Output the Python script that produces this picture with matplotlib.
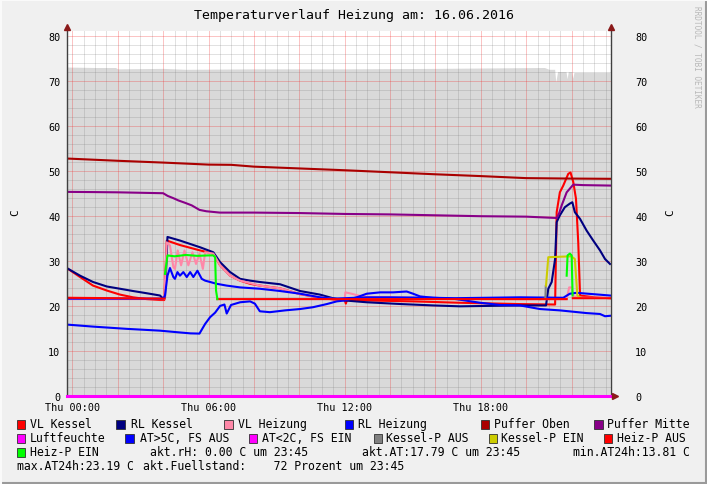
import numpy as np
import matplotlib
matplotlib.use("Agg")
import matplotlib.pyplot as plt
from matplotlib.patches import Rectangle

nan = np.nan
MONO = "DejaVu Sans Mono"

# zeit in stunden (Thu 00:00 = 0)
t_fuell = [-0.25, 1.0, 1.9, 2.0, 4.0, 5.0, 8.0, 12.0, 16.0, 20.8, 21.0, 21.25, 21.3, 21.38, 21.75, 21.8,
           21.85, 22.0, 22.05, 22.1, 23.69]
v_fuell = [73.0, 72.9, 72.9, 72.6, 72.7, 72.5, 72.6, 72.6, 72.7, 72.9, 72.5, 72.5, 69.7, 72.0, 72.0, 70.4,
           72.0, 72.0, 70.5, 71.8, 71.8]

t_oben = [-0.25, 2, 4, 6, 7, 8, 10, 12, 14, 16, 18, 20, 22, 23.69]
v_oben = [52.7, 52.2, 51.8, 51.35, 51.3, 50.9, 50.5, 50.1, 49.65, 49.2, 48.8, 48.35, 48.25, 48.2]

t_mitte = [-0.25, 1, 2, 3, 4.0, 4.2, 4.45, 4.67, 4.95, 5.26, 5.6, 5.9, 6.5, 8, 10, 12, 14, 16, 18, 20,
           21.34, 21.45, 21.56, 21.78, 22.07, 22.5, 23.69]
v_mitte = [45.3, 45.25, 45.2, 45.1, 45.0, 44.4, 43.9, 43.4, 42.9, 42.3, 41.3, 41.0, 40.7, 40.7, 40.6, 40.4,
           40.3, 40.1, 39.9, 39.8, 39.5, 40.6, 42.3, 45.2, 46.9, 46.8, 46.7]

t_vlk = [-0.25, 0.34, 0.91, 1.52, 2.10, 2.67, 3.28, 3.86, 4.05, 4.16, 4.74, 5.63, 6.21, 6.51, 6.95, 7.39,
         7.83, 8.26, 9.15, 10.03, 10.91, 11.55, 12.0, 12.05, 12.1, 13, 15, 17, 19.72, 21.27, 21.34, 21.48,
         21.63, 21.85, 21.95, 22.07, 22.19, 22.29, 22.37, 23, 23.69]
v_vlk = [28.4, 26.4, 24.5, 23.4, 22.5, 21.9, 21.5, 21.3, 21.3, 34.5, 33.5, 32.3, 31.6, 29.0, 26.7, 25.6,
         24.9, 24.5, 23.9, 22.6, 21.8, 21.4, 21.3, 20.5, 21.3, 21.2, 21.0, 20.7, 20.4, 20.3, 40.8, 45.2,
         46.7, 49.3, 49.6, 47.5, 43.8, 34.1, 22.3, 21.9, 21.7]

t_rlk = [-0.25, 0.34, 0.91, 1.52, 2.10, 2.67, 3.28, 3.86, 4.0, 4.08, 4.19, 4.74, 5.63, 6.21, 6.51, 6.95,
         7.39, 7.83, 8.26, 9.15, 10.03, 10.91, 11.48, 12.01, 12.97, 14.5, 15.89, 17.08, 19.72, 20.87, 20.97,
         21.12, 21.27, 21.34, 21.48, 21.70, 21.92, 22.03, 22.14, 22.37, 22.66, 22.95, 23.25, 23.47, 23.69]
v_rlk = [28.4, 26.7, 25.3, 24.3, 23.8, 23.3, 22.8, 22.3, 21.6, 21.8, 35.3, 34.5, 33.0, 31.9, 29.7, 27.5,
         26.0, 25.6, 25.3, 24.8, 23.3, 22.5, 21.7, 21.2, 20.8, 20.4, 20.1, 19.9, 20.1, 20.1, 23.8,
         25.3, 30.4, 38.6, 40.1, 41.9, 42.7, 43.0, 40.8, 39.3, 36.7, 34.5, 32.3, 30.4, 29.3]

t_vlh = [-0.25, 4.05, 4.16, 4.30, 4.45, 4.52, 4.64, 4.79, 4.94, 5.11, 5.29, 5.45, 5.60, 5.75, 5.85, 6.21,
         6.51, 6.95, 7.39, 8.26, 9.15, 10.03, 10.91, 11.55, 12.0, 12.03, 12.3, 12.6, 13.0, 15, 17, 19.72,
         21.78, 21.89, 22.0, 22.07, 22.3, 23.69]
v_vlh = [21.5, 21.5, 34.1, 33.4, 28.6, 28.2, 32.3, 29.0, 32.3, 29.0, 31.9, 29.3, 31.6, 28.2, 31.9, 31.6,
         29.0, 26.7, 25.6, 24.5, 23.9, 22.6, 21.9, 21.5, 21.5, 23.0, 22.7, 22.3, 22.0, 21.8, 21.6, 21.5,
         21.5, 24.1, 24.1, 22.2, 21.8, 21.8]

t_rlh = [-0.25, 4.0, 4.08, 4.19, 4.30, 4.45, 4.52, 4.63, 4.74, 4.89, 5.04, 5.19, 5.33, 5.51, 5.70, 5.85,
         6.07, 6.36, 6.80, 7.39, 8.26, 9.15, 10.03, 10.91, 11.48, 12.0, 12.97, 14, 15.89, 16.77, 19.72,
         21.63, 21.92, 22.22, 23.69]
v_rlh = [21.6, 21.6, 22.3, 26.7, 28.4, 26.4, 26.0, 27.5, 26.7, 27.5, 26.4, 27.5, 26.4, 27.8, 26.0, 25.6,
         25.3, 24.9, 24.5, 24.1, 23.8, 23.3, 22.7, 21.9, 21.6, 21.7, 21.9, 21.9, 21.8, 21.7, 21.9,
         21.8, 22.7, 22.9, 22.3]

t_at = [-0.25, 0.91, 2.4, 3.86, 4.74, 5.2, 5.6, 5.85, 6.07, 6.29, 6.51, 6.7, 6.8, 6.99, 7.39, 7.83, 8.04,
        8.26, 8.7, 9.37, 10.03, 10.6, 11.21, 11.65, 12.01, 12.53, 12.97, 13.56, 14.13, 14.73, 15.01, 15.32,
        15.89, 16.77, 17.96, 18.84, 19.72, 20.60, 21.48, 22.66, 23.25, 23.47, 23.69]
v_at = [15.85, 15.4, 14.9, 14.5, 14.1, 13.9, 13.85, 16.0, 17.5, 18.5, 20.0, 20.3, 18.3, 20.2, 20.8, 21.0,
        20.5, 18.8, 18.6, 19.0, 19.3, 19.7, 20.4, 21.0, 21.2, 21.9, 22.7, 23.0, 23.0, 23.19, 22.7, 22.1,
        21.8, 21.6, 20.7, 20.2, 20.1, 19.3, 19.0, 18.4, 18.2, 17.7, 17.8]

t_luft = [-0.25, 23.69]
v_luft = [0.0, 0.0]

t_kp_aus = [20.6, 20.84, 20.86]
v_kp_aus = [21.5, 21.6, 24.4]
t_kp_ein = [20.87, 20.97, 21.98, 22.14, 22.25, 22.37]
v_kp_ein = [24.5, 30.8, 31.0, 30.4, 22.3, 21.9]

t_hp_aus = [-0.25, 2.0, 4.05, 4.06, 6.38, 6.39, 12, 18, 21.78, 21.79, 22.04, 22.05, 23.69]
v_hp_aus = [21.8, 21.7, 21.6, nan, nan, 21.5, 21.5, 21.5, 21.5, nan, nan, 21.7, 21.7]
t_hp_ein = [4.08, 4.19, 4.5, 5.0, 5.5, 6.0, 6.21, 6.29, 6.33, 6.39, nan, 21.78, 21.82, 21.92, 22.0, 22.04]
v_hp_ein = [27.1, 31.2, 31.0, 31.3, 31.1, 31.2, 31.2, 30.8, 23.4, 21.5, nan, 26.7, 31.2, 31.6, 31.2, 22.3]

x_ticks = [0, 6, 12, 18]
x_labels = ["Thu 00:00", "Thu 06:00", "Thu 12:00", "Thu 18:00"]

legende = [
    ("VL Kessel", "#ff0000"), ("RL Kessel", "#000080"), ("VL Heizung", "#ff88a8"),
    ("RL Heizung", "#0000ff"), ("Puffer Oben", "#aa0000"), ("Puffer Mitte", "#880088"),
    ("Luftfeuchte", "#ff00ff"), ("AT>5C, FS AUS", "#0000ff"), ("AT<2C, FS EIN", "#ff00ff"),
    ("Kessel-P AUS", "#808080"), ("Kessel-P EIN", "#cccc00"), ("Heiz-P AUS", "#ff0000"),
    ("Heiz-P EIN", "#00ff00"),
]
# pixel positionen der legende (quadrat x, text x, zeile y)
leg_pos = [(16.7, 30.2, 425), (116.3, 130.7, 425), (224, 238, 425), (344.5, 358.4, 425),
           (480.6, 493.7, 425), (594, 607.3, 425),
           (16.7, 30.2, 439), (125.3, 139.8, 439), (248.9, 262.4, 439), (373.8, 385.5, 439),
           (488.7, 501.4, 439), (603.7, 616.8, 439),
           (16.7, 30.2, 453)]

W, H = 707, 485
fig = plt.figure(figsize=(W / 100, H / 100), dpi=100, facecolor="#f0f0f0")
ax = fig.add_axes([66.7 / W, 1 - 397 / H, (610.7 - 66.7) / W, (397 - 32) / H], facecolor="white")
ax.set_xlim(-0.25, 23.72)
ax.set_ylim(0, 81)

ax.fill_between(t_fuell, 0, v_fuell, color="#d9d9d9", lw=0, zorder=0.2)

# raster
grau = (0.45, 0.45, 0.45, 0.22)
rot = (0.95, 0.15, 0.15, 0.28)
for h in np.arange(0, 24, 0.5):
    ax.axvline(h, color=rot if h % 2 == 0 else grau, lw=0.7, zorder=0.5)
for y in range(2, 82, 2):
    ax.axhline(y, color=rot if y % 10 == 0 else grau, lw=0.7, zorder=0.5)

lw = 1.5
ax.plot(t_vlk, v_vlk, color="#ff0000", lw=lw, zorder=2)
ax.plot(t_rlk, v_rlk, color="#000080", lw=lw, zorder=2)
ax.plot(t_vlh, v_vlh, color="#ff88a8", lw=lw, zorder=2)
ax.plot(t_rlh, v_rlh, color="#0000ff", lw=lw, zorder=2)
ax.plot(t_oben, v_oben, color="#aa0000", lw=lw, zorder=2)
ax.plot(t_mitte, v_mitte, color="#880088", lw=lw, zorder=2)
ax.plot(t_luft, v_luft, color="#ff00ff", lw=2.2, zorder=3, clip_on=False)
ax.plot(t_at, v_at, color="#0000ff", lw=lw, zorder=2)
ax.plot(t_kp_aus, v_kp_aus, color="#808080", lw=lw, zorder=2)
ax.plot(t_kp_ein, v_kp_ein, color="#cccc00", lw=lw, zorder=2)
ax.plot(t_hp_aus, v_hp_aus, color="#ff0000", lw=lw, zorder=2)
ax.plot(t_hp_ein, v_hp_ein, color="#00ff00", lw=lw, zorder=2)

# achsen
ax.spines["top"].set_visible(False)
for s in ["left", "right", "bottom"]:
    ax.spines[s].set_color("#404040")
    ax.spines[s].set_linewidth(1.0)
ax.plot([-0.25], [81.8], marker="^", color="#8b1a1a", ms=4.5, clip_on=False, zorder=5)
ax.plot([23.72], [81.8], marker="^", color="#8b1a1a", ms=4.5, clip_on=False, zorder=5)
ax.plot([23.9], [0], marker=">", color="#8b1a1a", ms=4.5, clip_on=False, zorder=5)

ax.set_xticks(x_ticks)
ax.set_xticklabels(x_labels, fontfamily=MONO, fontsize=7.3)
ax.set_yticks(range(0, 81, 10))
ax.set_yticklabels([str(v) for v in range(0, 81, 10)], fontfamily=MONO, fontsize=7.3)
ax.tick_params(length=0, pad=4.5)

ax2 = ax.twinx()
ax2.set_ylim(0, 81)
ax2.set_yticks(range(0, 81, 10))
ax2.set_yticklabels([str(v) for v in range(0, 81, 10)], fontfamily=MONO, fontsize=7.3)
ax2.tick_params(length=0, pad=17.5)
for s in ax2.spines.values():
    s.set_visible(False)

fig.text(354 / W, 1 - 16 / H, "Temperaturverlauf Heizung am: 16.06.2016", ha="center", va="center",
         fontfamily=MONO, fontsize=9.5)
fig.text(15 / W, 1 - 213 / H, "C", rotation=90, ha="center", va="center", fontfamily=MONO, fontsize=8)
fig.text(670 / W, 1 - 213 / H, "C", rotation=90, ha="center", va="center", fontfamily=MONO, fontsize=8)
fig.text(697 / W, 1 - 6 / H, "RRDTOOL / TOBI OETIKER", rotation=-90, ha="center", va="top",
         fontfamily=MONO, fontsize=5.6, color="#b8b8b8")

# legende
for (name, farbe), (qx, tx, ty) in zip(legende, leg_pos):
    fig.add_artist(Rectangle((qx / W, 1 - (ty + 4.5) / H), 8.5 / W, 8.5 / H, transform=fig.transFigure,
                             facecolor=farbe, edgecolor="#303030", lw=0.6))
    fig.text(tx / W, 1 - ty / H, name, ha="left", va="center", fontfamily=MONO, fontsize=8.3)

fig.text(150 / W, 1 - 453 / H, "akt.rH: 0.00 C um 23:45", ha="left", va="center", fontfamily=MONO, fontsize=8.3)
fig.text(362 / W, 1 - 453 / H, "akt.AT:17.79 C um 23:45", ha="left", va="center", fontfamily=MONO, fontsize=8.3)
fig.text(572.6 / W, 1 - 453 / H, "min.AT24h:13.81 C", ha="left", va="center", fontfamily=MONO, fontsize=8.3)
fig.text(16.7 / W, 1 - 467 / H, "max.AT24h:23.19 C", ha="left", va="center", fontfamily=MONO, fontsize=8.3)
fig.text(143.4 / W, 1 - 467 / H, "akt.Fuellstand:    72 Prozent um 23:45", ha="left", va="center",
         fontfamily=MONO, fontsize=8.3)

# rahmen
fig.add_artist(plt.Line2D([0, 1], [1 / H, 1 / H], transform=fig.transFigure, color="#9a9a9a", lw=1.5))
fig.add_artist(plt.Line2D([1 - 1 / W, 1 - 1 / W], [0, 1], transform=fig.transFigure, color="#9a9a9a", lw=1.5))
fig.add_artist(plt.Line2D([0, 1], [1 - 0.5 / H, 1 - 0.5 / H], transform=fig.transFigure, color="#fafafa", lw=1.5))
fig.add_artist(plt.Line2D([0.5 / W, 0.5 / W], [0, 1], transform=fig.transFigure, color="#fafafa", lw=1.5))

fig.savefig("out.png", dpi=100, facecolor=fig.get_facecolor())
